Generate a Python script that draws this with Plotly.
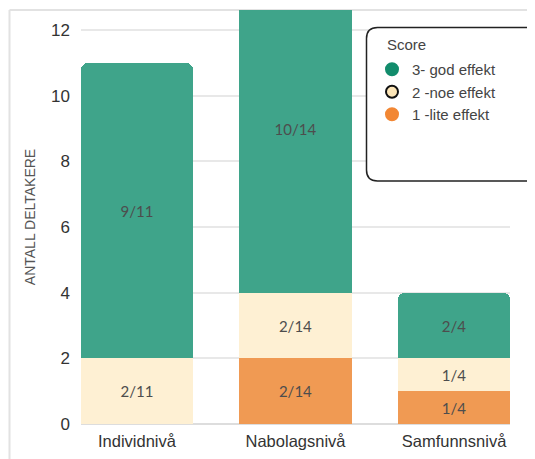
import plotly.graph_objects as go

categories = ["Individnivå", "Nabolagsnivå", "Samfunnsnivå"]
lite = [0, 2, 1]
noe = [2, 2, 1]
god = [9, 10, 2]
lite_labels = ["", "2/14", "1/4"]
noe_labels = ["2/11", "2/14", "1/4"]
god_labels = ["9/11", "10/14", "2/4"]
y_ticks = [0, 2, 4, 6, 8, 10, 12]

bar_colors = {"1 -lite effekt": "#f09a53", "2 -noe effekt": "#fef0d3", "3- god effekt": "#3fa48a"}
legend_colors = {"3- god effekt": "#128c6c", "2 -noe effekt": "#fde6b8", "1 -lite effekt": "#f28734"}

fig = go.Figure()
for name, vals, labs in [("1 -lite effekt", lite, lite_labels),
                         ("2 -noe effekt", noe, noe_labels),
                         ("3- god effekt", god, god_labels)]:
    fig.add_trace(go.Bar(
        x=categories, y=vals, name=name, text=labs, texttemplate="%{text}",
        textposition="inside", insidetextanchor="middle",
        textfont=dict(family="Lato", size=15, color="#4d4d4d"),
        marker=dict(color=bar_colors[name], line=dict(width=0)),
        showlegend=False, width=0.707, hoverinfo="skip"))

for name in ["3- god effekt", "2 -noe effekt", "1 -lite effekt"]:
    fig.add_trace(go.Scatter(
        x=[None], y=[None], mode="markers", name=name,
        marker=dict(symbol="circle", size=13, color=legend_colors[name],
                    line=dict(color="#111111" if name == "2 -noe effekt" else legend_colors[name], width=1.5))))

OFF = 8  # page offset of the figure inside the window
W, H = 535, 459
L, R, T, B = 81 - OFF, 535 - (510 - OFF), 10 - OFF, 459 - (424 - OFF)
pw, ph = W - L - R, H - T - B

def px(x):
    return (x - OFF - L) / pw

def py(y):
    return 1 - (y - OFF - T) / ph

# outer frame
fig.add_shape(type="line", xref="paper", yref="paper", x0=px(9.5), x1=px(560), y0=py(10), y1=py(10),
              line=dict(color="#e2e2e2", width=2), layer="below")
fig.add_shape(type="line", xref="paper", yref="paper", x0=px(9.5), x1=px(9.5), y0=py(10), y1=py(480),
              line=dict(color="#e2e2e2", width=2), layer="below")

# rounded legend box
x0, x1, y0, y1, r = 366.5, 580, 27.5, 181, 11
pts = (f"M {px(x0+r)},{py(y0)} L {px(x1)},{py(y0)} L {px(x1)},{py(y1)} "
       f"L {px(x0+r)},{py(y1)} Q {px(x0)},{py(y1)} {px(x0)},{py(y1-r)} "
       f"L {px(x0)},{py(y0+r)} Q {px(x0)},{py(y0)} {px(x0+r)},{py(y0)} Z")
fig.add_shape(type="path", xref="paper", yref="paper", path=pts,
              line=dict(color="#222222", width=1.5), fillcolor="white", layer="above")

fig.add_annotation(text="Score", xref="paper", yref="paper", x=px(385), y=py(44),
                   xanchor="left", yanchor="middle", showarrow=False,
                   font=dict(size=15, color="#444444"))

fig.update_layout(
    width=W, height=H, barmode="stack", barcornerradius=7,
    margin=dict(l=L, r=R, t=T, b=B, autoexpand=False),
    plot_bgcolor="white", paper_bgcolor="white",
    font=dict(family="Liberation Sans", color="#333333"),
    legend=dict(x=px(372), y=py(53), xanchor="left", yanchor="top",
                bgcolor="rgba(0,0,0,0)", borderwidth=0, traceorder="normal",
                font=dict(size=15, color="#444444"), itemsizing="constant",
                tracegroupgap=0),
    xaxis=dict(range=[-0.353, 2.353], showgrid=False, showline=False, zeroline=False,
               tickfont=dict(size=16.5, color="#333333"), ticks="", ticklabelstandoff=5),
    yaxis=dict(range=[0, 12.61], tickvals=y_ticks, showgrid=True, gridcolor="#e8e8e8",
               gridwidth=1.5, zeroline=True, zerolinecolor="#dddddd", zerolinewidth=1.5,
               showline=False, ticks="", ticklen=0, ticklabelstandoff=10,
               tickfont=dict(size=17, color="#333333"),
               title=dict(text="ANTALL DELTAKERE", font=dict(size=14, color="#555555"), standoff=12)),
)

fig.write_html("out.html")
